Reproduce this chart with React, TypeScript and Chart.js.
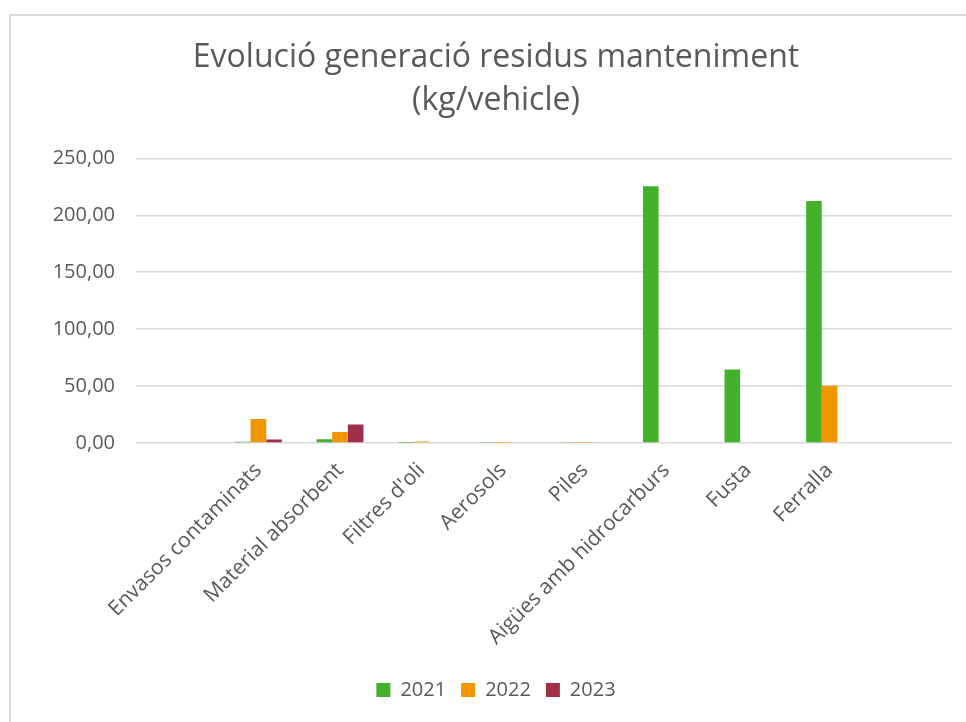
import React, { useEffect, useRef } from 'react';
import { Chart, registerables } from 'chart.js';

Chart.register(...registerables);

const categories = ['', 'Envasos contaminats', 'Material absorbent', "Filtres d'oli", 'Aerosols', 'Piles', 'Aigües amb hidrocarburs', 'Fusta', 'Ferralla', ''];
const series2021 = [null, 1.0, 3.2, 0.2, 0.4, 0.4, 225.5, 64.6, 212.5, null];
const series2022 = [null, 21.0, 9.7, 1.3, 0.2, 0.2, 0, 0, 50.2, null];
const series2023 = [null, 3.0, 16.2, 0, 0, 0, 0, 0, 0, null];
const seriesNames = ['2021', '2022', '2023'];
const seriesColors = ['#44b12c', '#f29600', '#a02f4b'];
const titleLines = ['Evolució generació residus manteniment', '(kg/vehicle)'];
const yMin = 0;
const yMax = 250;
const yStep = 50;

const FONT = "'Open Sans', 'DejaVu Sans', sans-serif";
const GREY = '#595959';

export default function App() {
  const ref = useRef<HTMLCanvasElement | null>(null);

  useEffect(() => {
    if (!ref.current) return;
    const allSeries = [series2021, series2022, series2023];
    const chart = new Chart(ref.current, {
      type: 'bar',
      data: {
        labels: categories,
        datasets: allSeries.map((d, i) => ({
          label: seriesNames[i],
          data: d,
          backgroundColor: seriesColors[i],
          borderWidth: 0,
          categoryPercentage: 0.575,
          barPercentage: 1,
          yAxisID: 'y',
        })),
      },
      options: {
        responsive: false,
        animation: false,
        layout: { padding: { left: 0, right: 0, top: 0, bottom: 12 } },
        plugins: {
          title: {
            display: true,
            text: titleLines,
            color: GREY,
            font: { family: FONT, size: 32, weight: 'normal', lineHeight: 1.35 },
            padding: { top: 36, bottom: 36 },
          },
          legend: {
            display: true,
            position: 'bottom',
            labels: {
              color: GREY,
              font: { family: FONT, size: 20 },
              boxWidth: 14,
              boxHeight: 14,
              padding: 15,
            },
          },
          tooltip: { enabled: false },
        },
        scales: {
          x: {
            grid: { display: false, drawTicks: false },
            border: { display: false },
            ticks: {
              color: GREY,
              font: { family: FONT, size: 21 },
              minRotation: 45,
              maxRotation: 45,
              autoSkip: false,
              padding: 15,
            },
            afterFit: (s: any) => { s.height = 222; },
          },
          y: {
            position: 'left',
            min: yMin,
            max: yMax,
            grid: { color: '#d9d9d9', lineWidth: 1.5, drawTicks: false },
            border: { display: false },
            ticks: {
              stepSize: yStep,
              color: GREY,
              font: { family: FONT, size: 20 },
              padding: 21,
              callback: (v: any) => Number(v).toFixed(2).replace('.', ','),
            },
            afterFit: (s: any) => { s.width = 136; },
          },
          yRight: {
            type: 'linear',
            position: 'right',
            display: true,
            grid: { display: false, drawOnChartArea: false, drawTicks: false },
            border: { display: false },
            ticks: { display: false },
            afterFit: (s: any) => { s.width = 40; },
          },
        },
      },
    } as any);
    return () => chart.destroy();
  }, []);

  return (
    <div style={{ position: 'fixed', left: 0, top: 0, width: 966, height: 722, overflow: 'hidden', background: '#ffffff' }}>
      <div style={{ position: 'absolute', left: 9, top: 14, width: 1100, height: 900, border: '2px solid #d9d9d9', boxSizing: 'border-box' }} />
      <canvas ref={ref} width={992} height={722} style={{ position: 'absolute', left: 0, top: 0, width: 992, height: 722 }} />
    </div>
  );
}
